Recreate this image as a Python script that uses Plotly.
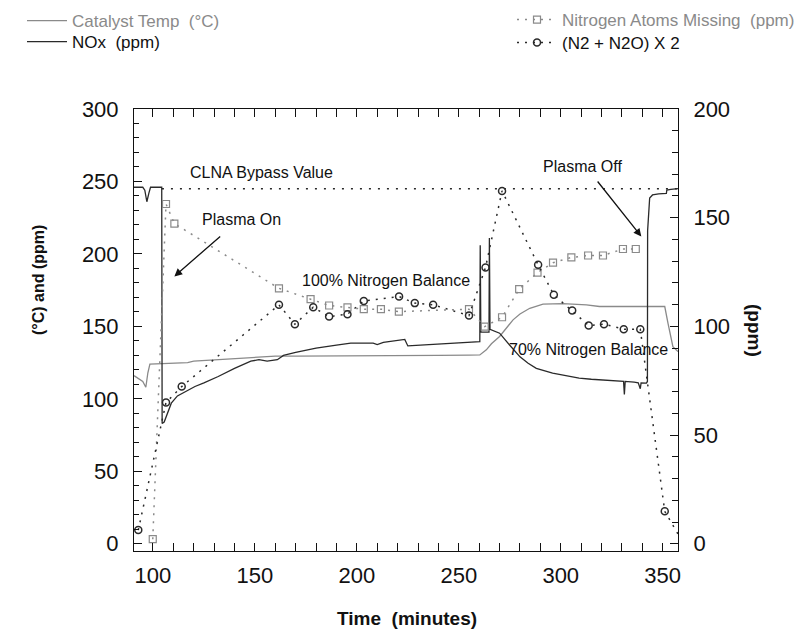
import plotly.graph_objects as go

# ---------------- data ----------------
# Catalyst temperature (°C), left axis
cat_t = [90.7, 93, 95, 96.5, 97.5, 98.5, 105, 117, 120, 130, 140, 150, 160, 170, 180, 200, 220,
         240, 255, 260.3, 263.5, 266, 270, 273, 276.6, 280, 284.8, 291.3, 301, 312.6, 319, 342,
         351, 352.6, 355, 357.5]
cat_v = [116, 114, 112, 108, 118, 124, 124.5, 125, 126, 127, 128, 128.5, 129.5, 129.5, 129.5,
         129.7, 129.7, 130, 130.2, 130.3, 133.8, 138, 143, 148.5, 154.5, 158.5, 162.5, 165.3,
         165.7, 164.8, 163.7, 163.7, 163.7, 152, 136, 132.6]

# NOx (ppm), left axis
nox_t = [90.7, 95, 96, 97, 98, 98.8, 104.3, 104.5, 105.5, 107, 109, 112, 115.7, 118, 120.6, 125,
         132, 140, 148, 152, 156, 161, 164, 170, 180, 190, 197, 208, 210, 213, 221, 223.5, 225,
         230, 245.6, 255, 260.3, 260.5, 260.8, 264.8, 265.0, 265.3, 266, 268, 270, 275, 280, 284,
         288, 296, 302, 309, 315, 322.4, 330, 330.8, 331.2, 331.6, 336, 338, 339, 339.4, 342,
         342.5, 342.6, 343.6, 345, 348, 351.8, 352, 354, 357.5]
nox_v = [246, 246, 244, 236, 242, 246, 246, 83, 84, 90, 97, 102, 105, 106.5, 108.5, 111,
         115.4, 121, 126, 127, 126, 127, 130, 132, 135, 137, 138.4, 138.5, 137.5, 139, 140.2,
         141, 136.5, 137, 138.4, 139, 139.5, 206, 146, 146, 211, 148, 147.6, 147, 145.3, 137,
         129, 124.5, 121, 117.7, 116, 114.3, 113.5, 113, 112, 112, 103, 112, 111.5, 111, 107,
         111, 110.8, 112, 216, 238.6, 240.7, 241.5, 241.8, 244, 244.5, 245]

# Nitrogen atoms missing (ppm), right axis
nam_t = [99.9, 106.4, 110.5, 161.8, 177.3, 186.4, 195.4, 203.4, 211.8, 220.6, 255, 262.7, 271.2,
         279.6, 288.6, 296.2, 305.2, 313.4, 320.7, 330.5, 336.8]
nam_v = [2.1, 156.3, 147.3, 117.5, 112.5, 109.6, 108.7, 107.9, 107.9, 106.8, 107.9, 99.9, 104.2,
         117.1, 124.7, 129.3, 131.7, 132.6, 132.6, 135.6, 135.6]

# (N2 + N2O) x 2 (ppm), right axis
n2_t = [92.8, 106.4, 114.1, 161.8, 169.6, 178.6, 186.4, 195.4, 203.4, 220.7, 228.4, 237.4, 255,
        263.1, 271.2, 288.9, 296.6, 305.6, 313.7, 321.2, 330.9, 339, 351, 360]
n2_v = [6.3, 65, 72.3, 109.9, 101, 108.8, 104.5, 105.6, 111.7, 113.7, 110.7, 109.9, 105, 127.1,
        162.3, 128.3, 114.5, 107.3, 100.4, 101, 98.7, 98.7, 14.9, 0.5]

# CLNA bypass value (left axis)
bypass_t = [104.4, 357.5]
bypass_v = [245, 245]

x_range = [90.7, 357.5]
yl_range = [-5, 300]
yr_range = [-5 / 1.5, 200]

FONT = "Liberation Sans, Arial, Helvetica, sans-serif"
GRAY = "#8a8a8a"
DARK = "#2a2a2a"
NB = "\u00a0"

fig = go.Figure()

fig.add_trace(go.Scatter(
    x=cat_t, y=cat_v, mode="lines", line=dict(color=GRAY, width=1.3),
    name=f"<span style='color:{GRAY}'>Catalyst Temp{NB}{NB}(°C)</span>", legend="legend"))
fig.add_trace(go.Scatter(
    x=nox_t, y=nox_v, mode="lines", line=dict(color=DARK, width=1.3),
    name=f"<span style='color:#111'>NOx{NB}{NB}(ppm)</span>", legend="legend2"))
fig.add_trace(go.Scatter(
    x=bypass_t, y=bypass_v, mode="lines", line=dict(color=DARK, width=1.5, dash="2px,7px"),
    showlegend=False))
fig.add_trace(go.Scatter(
    x=nam_t, y=nam_v, yaxis="y2", mode="lines+markers",
    line=dict(color=GRAY, width=1.5, dash="2px,6px"),
    marker=dict(symbol="square-open", size=7, color=GRAY, line=dict(width=1.2)),
    name=f"<span style='color:{GRAY}'>Nitrogen Atoms Missing{NB}{NB}(ppm)</span>", legend="legend3"))
fig.add_trace(go.Scatter(
    x=n2_t, y=n2_v, yaxis="y2", mode="lines+markers",
    line=dict(color=DARK, width=1.5, dash="2px,6px"),
    marker=dict(symbol="circle-open", size=7, color=DARK, line=dict(width=1.5)),
    name=f"<span style='color:#111'>(N2 + N2O) X 2</span>", legend="legend4"))

tickfont = dict(family=FONT, size=22, color="#111")
AX = "#111"


def leg(xpx, ypx):
    return dict(xref="container", yref="container", x=xpx / 797, y=1 - ypx / 632,
                xanchor="left", yanchor="middle", font=dict(family=FONT, size=17),
                bgcolor="rgba(0,0,0,0)", itemwidth=40, tracegroupgap=0)


fig.update_layout(
    width=797, height=632,
    margin=dict(l=134, r=119, t=109, b=81, autoexpand=False),
    paper_bgcolor="white", plot_bgcolor="white",
    font=dict(family=FONT, color="#111"),
    xaxis=dict(
        range=x_range, showgrid=False, zeroline=False,
        showline=True, linecolor=AX, linewidth=1, mirror="allticks",
        ticks="inside", ticklen=8, tickwidth=1.2, tickcolor=AX, dtick=50, tick0=0, tickangle=0,
        minor=dict(dtick=10, ticks="inside", ticklen=5, tickwidth=1, tickcolor=AX),
        tickfont=tickfont, ticklabelstandoff=5,
    ),
    yaxis=dict(
        range=yl_range, showgrid=False, zeroline=False,
        showline=True, linecolor=AX, linewidth=1,
        ticks="inside", ticklen=8, tickwidth=1.2, tickcolor=AX, dtick=50, tick0=0,
        minor=dict(dtick=10, ticks="inside", ticklen=5, tickwidth=1, tickcolor=AX),
        tickfont=tickfont, ticklabelstandoff=10,
    ),
    yaxis2=dict(
        range=yr_range, overlaying="y", side="right", showgrid=False, zeroline=False,
        showline=True, linecolor=AX, linewidth=1,
        ticks="inside", ticklen=8, tickwidth=1.2, tickcolor=AX, dtick=50, tick0=0,
        minor=dict(dtick=10, ticks="inside", ticklen=6, tickwidth=1, tickcolor=AX),
        tickfont=tickfont, ticklabelstandoff=10,
    ),
    legend=leg(22, 21),
    legend2=leg(22, 42),
    legend3=leg(512, 20),
    legend4=leg(512, 43),
    showlegend=True,
)

ann_font = dict(family=FONT, size=16, color="#111")
fig.add_annotation(x=153.4, y=256, text="CLNA Bypass Value", showarrow=False, font=ann_font)
fig.add_annotation(x=143.6, y=224, text="Plasma On", showarrow=False, font=ann_font)
fig.add_annotation(x=110.5, y=184.5, ax=133.7, ay=213, axref="x", ayref="y",
                   text="", showarrow=True, arrowhead=2, arrowsize=1.2, arrowwidth=1.3, arrowcolor="#111")
fig.add_annotation(x=214.5, y=181.4, text="100% Nitrogen Balance", showarrow=False, font=ann_font)
fig.add_annotation(x=313.8, y=133.8, text="70% Nitrogen Balance", showarrow=False, font=ann_font)
fig.add_annotation(x=310.8, y=260, text="Plasma Off", showarrow=False, font=ann_font)
fig.add_annotation(x=339.5, y=212, ax=317.5, ay=251, axref="x", ayref="y",
                   text="", showarrow=True, arrowhead=2, arrowsize=1.2, arrowwidth=1.3, arrowcolor="#111")

# axis titles
fig.add_annotation(xref="paper", yref="paper", x=(407 - 134) / 544, y=-(618 - 551) / 442,
                   xanchor="center", yanchor="middle",
                   text="<b>Time" + NB + NB + "(minutes)</b>", showarrow=False,
                   font=dict(family=FONT, size=19, color="#111"))
fig.add_annotation(xref="paper", yref="paper", x=(38 - 134) / 544, y=(551 - 280) / 442,
                   xanchor="center", yanchor="middle",
                   text="<b>(°C) and (ppm)</b>", showarrow=False, textangle=-90,
                   font=dict(family=FONT, size=16, color="#111"))
fig.add_annotation(xref="paper", yref="paper", x=(755 - 134) / 544, y=(551 - 330) / 442,
                   xanchor="center", yanchor="middle",
                   text="<b>(ppm)</b>", showarrow=False, textangle=90,
                   font=dict(family=FONT, size=19, color="#111"))

fig.write_html("out.html")
